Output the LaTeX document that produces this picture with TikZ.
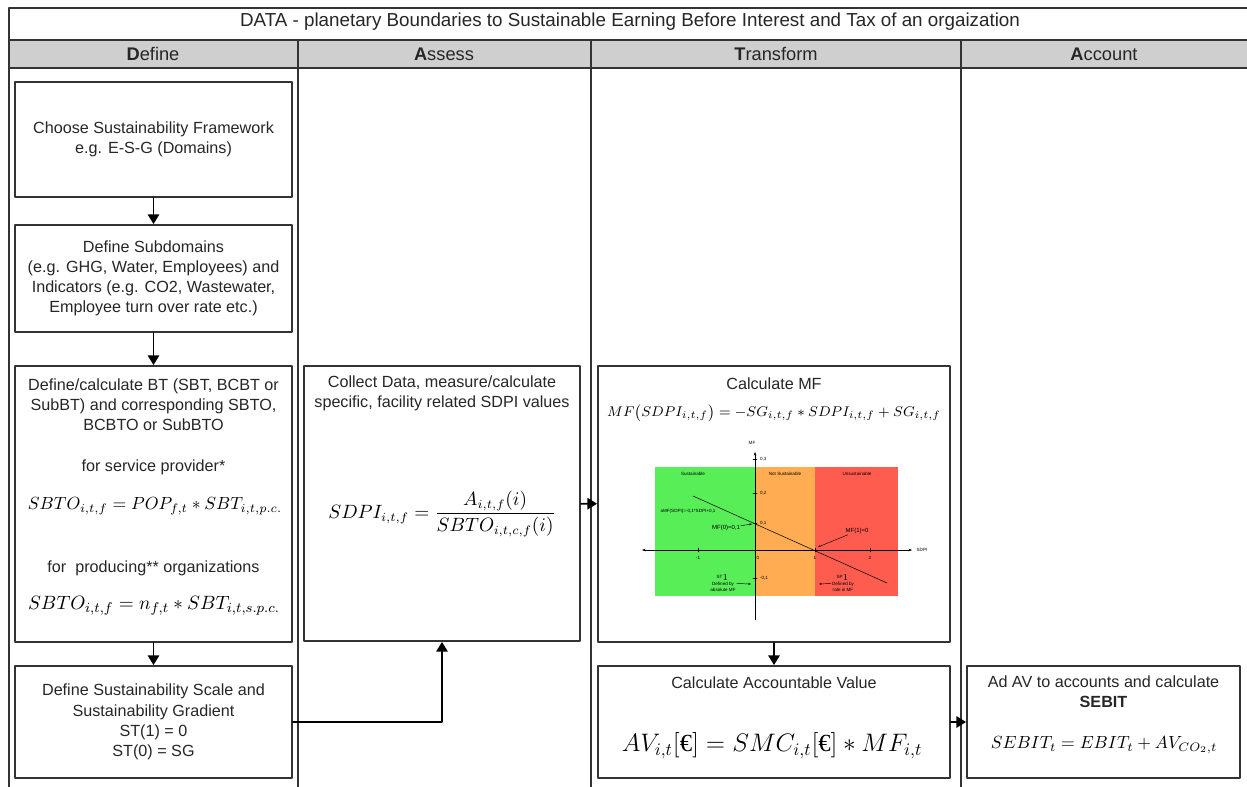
\documentclass[tikz,border=0pt]{standalone}
\usepackage{amsmath}
\usepackage[no-math]{fontspec}
\setmainfont{Liberation Sans}
\newfontfamily\eurofont{Liberation Serif}
\usetikzlibrary{arrows.meta}

\definecolor{sustgreen}{RGB}{88,238,88}
\definecolor{notorange}{RGB}{255,172,82}
\definecolor{unsustred}{RGB}{255,92,80}

\tikzset{
  lane/.style = {line width = 1.1pt, draw = black!80},
  box/.style = {rectangle, draw = black!80, line width = 1.1pt, inner sep = 0pt},
  txt/.style = {align = center, text = black!85, font = \fontsize{9.2}{11.5}\selectfont},
  head/.style = {txt, font = \fontsize{10.4}{12}\selectfont},
  flow/.style = {-{Triangle[length = 5.5pt, width = 6.5pt]}, line width = 0.9pt},
  tiny/.style = {font = \fontsize{2.6}{3}\selectfont, inner sep = 0.4pt, align = center}
}

\newcommand{\eur}{\text{\eurofont €}}

\begin{document}
\begin{tikzpicture}[x = 0.02cm, y = -0.02cm, line join = round, line cap = round]
\useasboundingbox (0, 0) rectangle (1247, 787);

% title, header and lanes
\fill[black!19] (9, 40) rectangle (1247, 68);
\draw[lane] (1247, 8) -- (9, 8) -- (9, 787);
\draw[lane] (9, 40) -- (1247, 40);
\draw[lane] (9, 68) -- (1247, 68);
\foreach \x in {298, 591, 961}{
  \draw[lane] (\x, 40) -- (\x, 787);
}
\node[head, font = \fontsize{10.7}{12}\selectfont] (title) at (630, 22)
  {DATA - planetary Boundaries to Sustainable Earning Before Interest and Tax of an orgaization};
\node[head] (hdefine) at (153, 54) {\textbf{D}efine};
\node[head] (hassess) at (444, 54) {\textbf{A}ssess};
\node[head] (htransform) at (776, 54) {\textbf{T}ransform};
\node[head] (haccount) at (1104, 54) {\textbf{A}ccount};

% Define
\node[box, txt, minimum width = 5.54cm, minimum height = 2.3cm] (choose) at (153.5, 139.5)
  {Choose Sustainability Framework\\e.g. E-S-G (Domains)};
\node[box, txt, minimum width = 5.54cm, minimum height = 2.14cm] (subdomains) at (153.5, 278.5)
  {Define Subdomains\\(e.g. GHG, Water, Employees) and\\Indicators (e.g. CO2, Wastewater,\\Employee turn over rate etc.)};
\node[box, minimum width = 5.54cm, minimum height = 5.52cm] (bt) at (153.5, 504) {};
\node[txt] (bttxt) at (153.5, 405) {Define/calculate BT (SBT, BCBT or\\SubBT) and corresponding SBTO,\\BCBTO or SubBTO};
\node[txt] (service) at (153.5, 467) {for service provider*};
\node[font = \fontsize{9.8}{12}\selectfont] (sbtoa) at (155, 506)
  {$SBTO_{i,t,f} = POP_{f,t} \ast SBT_{i,t,p.c.}$};
\node[txt] (producing) at (153.5, 568) {for\ \ producing** organizations};
\node[font = \fontsize{10.8}{13}\selectfont] (sbtob) at (154, 606)
  {$SBTO_{i,t,f} = n_{f,t} \ast SBT_{i,t,s.p.c.}$};
\node[box, txt, minimum width = 5.54cm, minimum height = 2.24cm] (scale) at (153.5, 722)
  {Define Sustainability Scale and\\Sustainability Gradient\\ST(1) = 0\\ST(0) = SG};

% Assess
\node[box, minimum width = 5.52cm, minimum height = 5.5cm] (collect) at (442, 503.5) {};
\node[txt] (collecttxt) at (442, 393) {Collect Data, measure/calculate\\specific, facility related SDPI values};
\node[font = \fontsize{10.7}{13}\selectfont] (sdpi) at (442, 514)
  {$SDPI_{i,t,f} = \dfrac{A_{i,t,f}(i)}{SBTO_{i,t,c,f}(i)}$};

% Transform
\node[box, minimum width = 7.04cm, minimum height = 5.52cm] (mf) at (774, 504) {};
\node[txt] (mftxt) at (774, 384) {Calculate MF};
\node[font = \fontsize{8.3}{10}\selectfont] (mfeq) at (774, 413)
  {$MF\bigl(SDPI_{i,t,f}\bigr) = -SG_{i,t,f} \ast SDPI_{i,t,f} + SG_{i,t,f}$};
\fill[sustgreen] (655, 467) rectangle (755, 596);
\fill[notorange] (755, 467) rectangle (815, 596);
\fill[unsustred] (815, 467) rectangle (898, 596);
\draw[line width = 0.25pt, {Stealth[length = 2pt]}-{Stealth[length = 2pt]}] (642, 550) -- (912, 550);
\draw[line width = 0.25pt, -{Stealth[length = 2pt]}] (755, 620) -- (755, 452);
\node[tiny] (sdpiaxis) at (922, 550) {SDPI};
\node[tiny] (mfaxis) at (752, 443) {MF};
\foreach \x/\t in {698/-1, 815/1, 870/2}{
  \draw[line width = 0.25pt] (\x, 548) -- (\x, 552);
  \node[tiny] (xt\t) at (\x, 558) {\t};
}
\node[tiny] (xt0) at (758, 558) {0};
\foreach \y/\t/\n in {459/{0,3}/a, 493/{0,2}/b, 523/{0,1}/c, 578/{-0,1}/d}{
  \draw[line width = 0.25pt] (753, \y) -- (757, \y);
  \node[tiny, anchor = west] (yt\n) at (759, \y) {\t};
}
\node[tiny] (lsust) at (693, 474) {Sustainable};
\node[tiny] (lnot) at (785, 474) {Not Sustainable};
\node[tiny] (lunsust) at (857, 474) {Unsustainable};
\draw[line width = 0.3pt] (693, 496) -- (887, 583);
\node[tiny] (lfunc) at (688, 511) {aMF(SDPI)=-0,1*SDPI+0,1};
\node[tiny, font = \fontsize{3.4}{4}\selectfont] (lmfzero) at (726, 528) {MF(0)=0,1};
\coordinate (pzero) at (752, 524);
\draw[line width = 0.25pt, -{Stealth[length = 1.5pt]}] (lmfzero) -- (pzero);
\node[tiny, font = \fontsize{3.4}{4}\selectfont] (lmfone) at (857, 531) {MF(1)=0};
\coordinate (pone) at (818, 547);
\draw[line width = 0.25pt, -{Stealth[length = 1.5pt]}] (lmfone) -- (pone);
\node[tiny] (lst) at (723, 583) {ST$_1$\\Defined by\\absolute MF};
\coordinate (pst) at (751, 584);
\draw[line width = 0.25pt, -{Stealth[length = 1.5pt]}] (lst) -- (pst);
\node[tiny] (lsp) at (843, 583) {SP$_1$\\Defined by\\rate in MF};
\coordinate (psp) at (819, 584);
\draw[line width = 0.25pt, -{Stealth[length = 1.5pt]}] (lsp) -- (psp);

\node[box, minimum width = 7.04cm, minimum height = 2.24cm] (av) at (774, 722) {};
\node[txt] (avtxt) at (774, 683) {Calculate Accountable Value};
\node[font = \fontsize{14}{16}\selectfont] (aveq) at (772, 746)
  {$AV_{i,t}[\eur] = SMC_{i,t}[\eur] \ast MF_{i,t}$};

% Account
\node[box, minimum width = 5.46cm, minimum height = 2.24cm] (sebit) at (1103.5, 722) {};
\node[txt] (sebittxt) at (1103.5, 692) {Ad AV to accounts and calculate\\\textbf{SEBIT}};
\node[font = \fontsize{9.7}{12}\selectfont] (sebiteq) at (1104, 745)
  {$SEBIT_t = EBIT_t + AV_{CO_2,t}$};

% flow
\draw[flow] (choose) -- (subdomains);
\draw[flow] (subdomains) -- (bt);
\draw[flow] (bt) -- (scale);
\draw[flow] (scale.east) -| (collect.south);
\draw[flow] (collect) -- (mf);
\draw[flow] (mf) -- (av);
\draw[flow] (av) -- (sebit);
\end{tikzpicture}
\end{document}
